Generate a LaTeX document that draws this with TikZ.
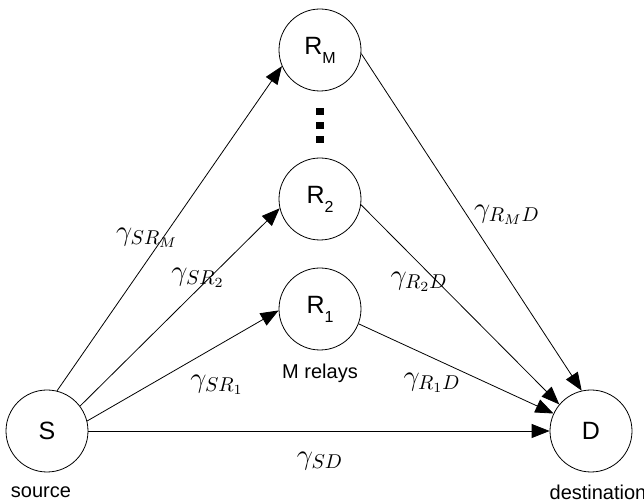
\documentclass[tikz,border=0pt]{standalone}
\usepackage{amsmath,amssymb}
\usepackage{fontspec}
\newfontfamily\helv{Liberation Sans}
\usetikzlibrary{arrows.meta}

\newcommand{\relaysub}[1]{\raisebox{-4.5pt}{\fontsize{8}{9}\selectfont #1}}

\tikzset{
  station/.style={circle,draw,minimum size=41pt,inner sep=0pt,font=\helv\fontsize{12.5}{14}\selectfont},
  caption/.style={font=\helv\fontsize{10}{12}\selectfont},
  gain/.style={font=\fontsize{14}{16}\selectfont},
  link/.style={-{Triangle[length=9pt,width=7pt]}},
}

\begin{document}
\begin{tikzpicture}[x=0.5pt,y=0.5pt]
    \useasboundingbox (0,0) rectangle (644,504);
    % source, destination and the relays
    \node[station] (S) at (47,73) {S};
    \node[station] (D) at (591,73) {D};
    \node[station] (R1) at (320,195) {R\relaysub{1}};
    \node[station] (R2) at (320,305) {R\relaysub{2}};
    \node[station] (RM) at (320,454) {R\relaysub{M}};
    \node[caption] (src) at (41,12) {source};
    \node[caption] (dst) at (598,12) {destination};
    \node[caption] (relays) at (320,131) {M relays};
    \foreach \y in {364,378,392}
        \fill (316,\y-3.5) rectangle (324,\y+3.5); % vertical dots
    % links out of S
    \draw[link] (S.76)--(RM.203);
    \draw[link] (S.37)--(R2.193);
    \draw[link] (S.14)--(R1.182);
    \draw[link] (S.0)--(D.180);
    % links into D
    \draw[link] (RM.-5)--(D.103);
    \draw[link] (R2.-8)--(D.140);
    \draw[link] (R1.-21)--(D.155);
    % channel gains
    \node[gain] (gSRM) at (147,266) {$\gamma_{SR_M}$};
    \node[gain] (gSR2) at (198,226) {$\gamma_{SR_2}$};
    \node[gain] (gSR1) at (217,119) {$\gamma_{SR_1}$};
    \node[gain] (gSD) at (320,43) {$\gamma_{SD}$};
    \node[gain] (gRMD) at (507,289) {$\gamma_{R_M D}$};
    \node[gain] (gR2D) at (419,222) {$\gamma_{R_2 D}$};
    \node[gain] (gR1D) at (432,121) {$\gamma_{R_1 D}$};
\end{tikzpicture}
\end{document}
